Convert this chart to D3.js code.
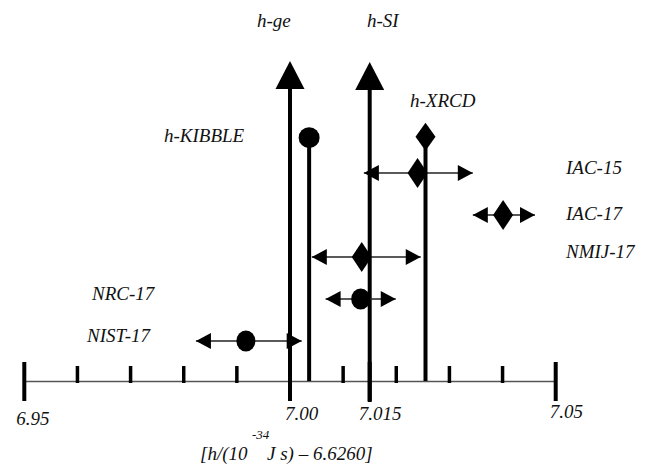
<!DOCTYPE html>
<html>
<head>
<meta charset="utf-8">
<script src="https://cdn.jsdelivr.net/npm/d3@7"></script>
<style>
    body { margin: 0; background: #fff; }
    text { font-family: "Liberation Serif", "DejaVu Serif", serif; font-style: italic; fill: #111; }
</style>
</head>
<body>
<svg id="chart"></svg>
<script>
// Values (h/(1e-34 J s) - 6.6260)
const resultNames = ["h-ge", "h-SI", "h-KIBBLE", "h-XRCD"];
const resultValues = [7.000, 7.015, 7.0036, 7.0255];
const resultMarks = ["triangle", "triangle", "circle", "diamond"];

const measNames = ["IAC-15", "IAC-17", "NMIJ-17", "NRC-17", "NIST-17"];
const measValues = [7.0240, 7.0401, 7.0135, 7.0133, 6.9917];
const measLow = [7.0139, 7.0344, 7.0041, 7.0067, 6.9823];
const measHigh = [7.0344, 7.0461, 7.0246, 7.0199, 7.0022];
const measMarks = ["diamond", "diamond", "diamond", "circle", "circle"];

const majorTicks = [6.95, 7.00, 7.015, 7.05];
const majorTickLabels = ["6.95", "7.00", "7.015", "7.05"];
const minorTicks = [6.96, 6.97, 6.98, 6.99, 7.01, 7.02, 7.03, 7.04];

// Set up dimensions
const width = 648, height = 470;
const axisY = 381.5;

const svg = d3.select("#chart")
    .attr("width", width)
    .attr("height", height);

const x = d3.scaleLinear()
    .domain([6.95, 7.05])
    .range([24.3, 555.7]);

const y = d3.scalePoint()
    .domain(measNames)
    .range([173, 341]);

// marker paths centred on 0,0
function markerPath(kind, big) {
    if (kind === "diamond") {
        const w = 10, h = big ? 14 : 15;
        return `M0,${-h}L${w},0L0,${h}L${-w},0Z`;
    }
    if (kind === "triangle") {
        return "M0,-14L14.5,14L-14.5,14Z";
    }
    return null;
}

// Axis line
svg.append("line")
    .attr("x1", x(6.95)).attr("x2", x(7.05))
    .attr("y1", axisY).attr("y2", axisY)
    .attr("stroke", "#555")
    .attr("stroke-width", 1.5);

// Minor ticks
svg.selectAll(".minor")
    .data(minorTicks)
    .enter()
    .append("line")
    .attr("class", "minor")
    .attr("x1", d => x(d)).attr("x2", d => x(d))
    .attr("y1", 366).attr("y2", 383)
    .attr("stroke", "#000")
    .attr("stroke-width", 3.5);

// Major ticks
svg.selectAll(".major")
    .data(majorTicks)
    .enter()
    .append("line")
    .attr("class", "major")
    .attr("x1", d => x(d)).attr("x2", d => x(d))
    .attr("y1", 362).attr("y2", 401)
    .attr("stroke", "#000")
    .attr("stroke-width", 4);

// Tick labels (staggered like the original)
const labelDx = [-8, -5, -11, -6];
const labelY = [425, 420, 420, 418];
svg.selectAll(".ticklabel")
    .data(majorTicks)
    .enter()
    .append("text")
    .attr("class", "ticklabel")
    .attr("x", (d, i) => x(d) + labelDx[i])
    .attr("y", (d, i) => labelY[i])
    .attr("font-size", 19)
    .text((d, i) => majorTickLabels[i]);

// Axis title
const title = svg.append("text")
    .attr("y", 460)
    .attr("font-size", 19);
title.append("tspan")
    .attr("x", 200)
    .text("[h/(10");
title.append("tspan")
    .attr("x", 252)
    .attr("y", 439)
    .attr("font-size", 13)
    .text("-34");
title.append("tspan")
    .attr("x", 267)
    .attr("y", 460)
    .text("J s) \u2013 6.6260]");

// Vertical result stems
const stemTop = [75, 76, 137.7, 136.7];
const stemBottom = [401, 402, 381, 381];
const results = svg.selectAll(".result")
    .data(resultValues)
    .enter()
    .append("g")
    .attr("class", "result");

results.append("line")
    .attr("x1", d => x(d)).attr("x2", d => x(d))
    .attr("y1", (d, i) => stemTop[i])
    .attr("y2", (d, i) => stemBottom[i])
    .attr("stroke", "#000")
    .attr("stroke-width", 4);

results.each(function(d, i) {
    const g = d3.select(this);
    const cx = x(d), cy = stemTop[i];
    if (resultMarks[i] === "circle") {
        g.append("circle")
            .attr("cx", cx).attr("cy", cy)
            .attr("r", 10.5)
            .attr("fill", "#000");
    } else {
        g.append("path")
            .attr("d", markerPath(resultMarks[i], true))
            .attr("transform", `translate(${cx},${cy})`)
            .attr("fill", "#000");
    }
});

// Result labels
const resultLabelPos = [[257, 27], [367, 27], [164, 142], [410, 107]];
svg.selectAll(".rlabel")
    .data(resultNames)
    .enter()
    .append("text")
    .attr("class", "rlabel")
    .attr("x", (d, i) => resultLabelPos[i][0])
    .attr("y", (d, i) => resultLabelPos[i][1])
    .attr("font-size", 19)
    .text(d => d);

// Measurements with uncertainty arrows
const meas = svg.selectAll(".meas")
    .data(measNames)
    .enter()
    .append("g")
    .attr("class", "meas");

meas.append("line")
    .attr("x1", (d, i) => x(measLow[i]))
    .attr("x2", (d, i) => x(measHigh[i]))
    .attr("y1", d => y(d)).attr("y2", d => y(d))
    .attr("stroke", "#222")
    .attr("stroke-width", 1.5);

// left and right arrowheads, tip at the bound
meas.append("path")
    .attr("d", (d, i) => {
        const tx = x(measLow[i]), ty = y(d);
        return `M${tx},${ty}L${tx + 15},${ty - 8}L${tx + 15},${ty + 8}Z`;
    })
    .attr("fill", "#000");

meas.append("path")
    .attr("d", (d, i) => {
        const tx = x(measHigh[i]), ty = y(d);
        return `M${tx},${ty}L${tx - 15},${ty - 8}L${tx - 15},${ty + 8}Z`;
    })
    .attr("fill", "#000");

meas.each(function(d, i) {
    const g = d3.select(this);
    const cx = x(measValues[i]), cy = y(d);
    if (measMarks[i] === "circle") {
        g.append("ellipse")
            .attr("cx", cx).attr("cy", cy)
            .attr("rx", 9.5).attr("ry", 10.5)
            .attr("fill", "#000");
    } else {
        g.append("path")
            .attr("d", markerPath(measMarks[i], false))
            .attr("transform", `translate(${cx},${cy})`)
            .attr("fill", "#000");
    }
});

// Measurement labels: first three on the right, last two on the left
const measLabelX = [566, 566, 566, 92, 87];
svg.selectAll(".mlabel")
    .data(measNames)
    .enter()
    .append("text")
    .attr("class", "mlabel")
    .attr("x", (d, i) => measLabelX[i])
    .attr("y", (d, i) => y(d) + (i === 1 ? 5 : 1))
    .attr("font-size", 19)
    .text(d => d);
</script>
</body>
</html>
